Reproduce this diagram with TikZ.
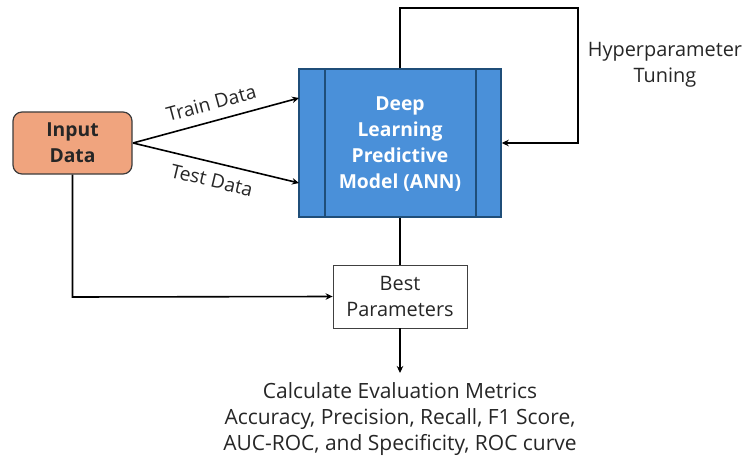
\documentclass[tikz,border=0pt]{standalone}
\usepackage{fontspec}
\setmainfont{Open Sans}
\usetikzlibrary{arrows.meta}
\definecolor{inputfill}{RGB}{240,164,126}
\definecolor{inputline}{RGB}{60,60,60}
\definecolor{modelfill}{RGB}{74,144,217}
\definecolor{modelline}{RGB}{31,78,121}
\tikzset{
  conn/.style={draw=black, line width=1.6pt, -{Stealth[length=7pt,width=6.5pt]}},
  plain/.style={draw=black, line width=1.6pt},
  lbl/.style={font=\fontsize{19.9}{26}\selectfont, text=black!85, align=center, inner sep=0pt},
  evallbl/.style={font=\fontsize{21}{26}\selectfont, text=black!85, align=center, inner sep=0pt},
  boldlbl/.style={font=\fontsize{19.3}{26}\selectfont\bfseries, align=center, inner sep=0pt},
  slopelbl/.style={font=\fontsize{19.3}{20}\selectfont, text=black!85, inner sep=0pt},
}
\begin{document}
\begin{tikzpicture}[x=1pt,y=-1pt]
\useasboundingbox (0,0) rectangle (748,460);

% input data block
\node[draw=inputline, line width=1.2pt, fill=inputfill, rounded corners=9pt,
      minimum width=119pt, minimum height=62pt, inner sep=0pt] (input) at (72.5,143) {};
\node[boldlbl, text=black!85] (inputtxt) at (72.5,143) {Input\\Data};

% predictive model block with its two side bands
\node[draw=modelline, line width=1.5pt, fill=modelfill,
      minimum width=202pt, minimum height=148pt, inner sep=0pt] (model) at (400,143) {};
\draw[modelline, line width=1.5pt] (325,69) -- (325,217) (476,69) -- (476,217);
\node[boldlbl, text=white] (modeltxt) at (400,144) {Deep\\Learning\\Predictive\\Model (ANN)};

% best parameters block
\node[draw=black!75, line width=0.8pt, fill=white,
      minimum width=134pt, minimum height=63pt, inner sep=0pt] (best) at (400,296.5) {};
\node[lbl] (besttxt) at (400,296.5) {Best\\Parameters};

% evaluation text
\node[evallbl] (eval) at (400,419) {Calculate Evaluation Metrics\\Accuracy, Precision, Recall, F1 Score,\\AUC-ROC, and Specificity, ROC curve};

% hyperparameter tuning label
\node[lbl] (hyper) at (665,65) {Hyperparameter\\Tuning};

% split connectors
\coordinate (split) at (133,143);
\coordinate (trainin) at (299,98);
\coordinate (testin) at (299,183);
\draw[conn] (split) -- node[sloped, above=10pt, slopelbl, pos=0.5] (trainlbl) {Train Data} (trainin);
\draw[conn] (split) -- node[sloped, below=10pt, slopelbl, pos=0.5] (testlbl) {Test Data} (testin);

% tuning loop
\coordinate (looptop) at (400,8);
\coordinate (loopcorner) at (578,8);
\coordinate (loopback) at (578,143);
\draw[conn] (model.north) -- (looptop) -- (loopcorner) -- (loopback) -- (model.east);

% model to best parameters
\draw[plain] (model.south) -- (best.north);

% input data to best parameters
\coordinate (inbend) at (72.5,297);
\draw[conn] (input.south) -- (inbend) -- (best.west);

% best parameters to evaluation
\coordinate (evaltop) at (400,373);
\draw[conn] (best.south) -- (evaltop);
\end{tikzpicture}
\end{document}
